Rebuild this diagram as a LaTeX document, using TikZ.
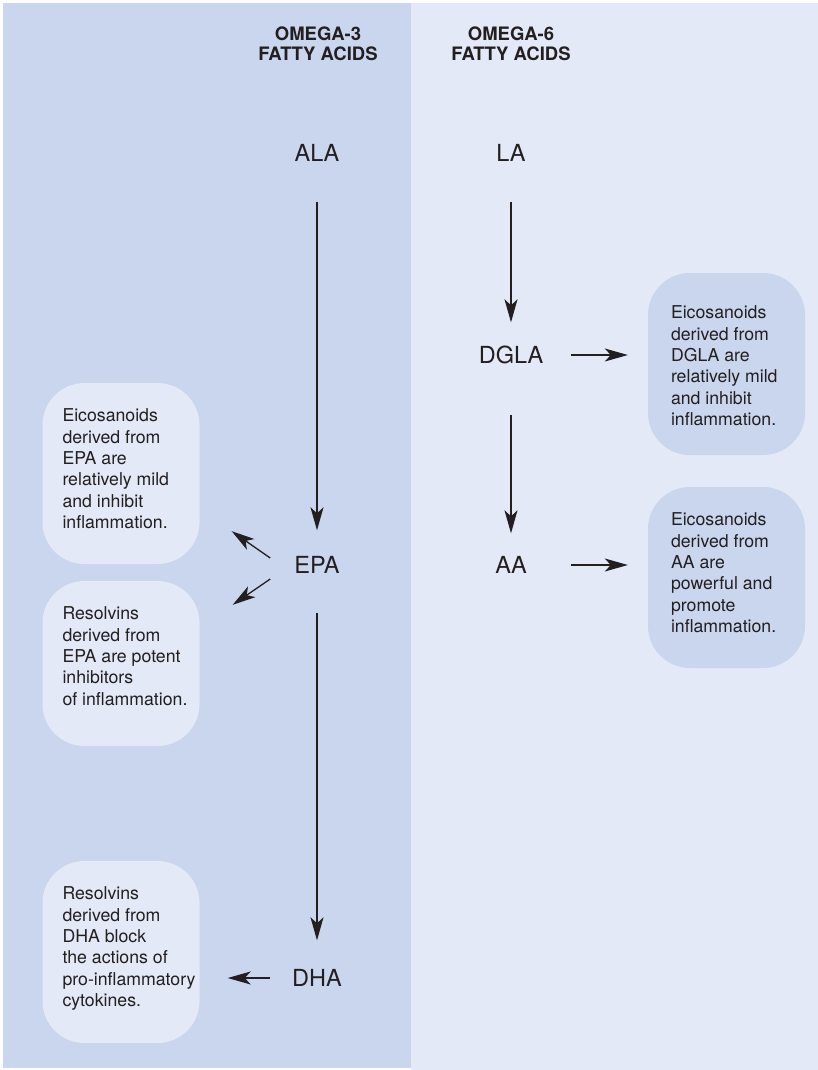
\documentclass[tikz,border=0pt]{standalone}
\usepackage{fontspec}
\setmainfont{TeX Gyre Heros}
\usetikzlibrary{arrows.meta}
\usetikzlibrary{positioning}

\definecolor{omegathree}{RGB}{201,214,238}
\definecolor{omegasix}{RGB}{227,233,246}
\definecolor{inkgrey}{RGB}{35,31,32}

\tikzset{
  acid/.style={inner sep=0pt, text height=17pt, text depth=0pt,
    font=\fontsize{23.5}{24}\selectfont, text=inkgrey},
  header/.style={inner sep=0pt, align=center, anchor=north,
    font=\fontsize{18.5}{20}\selectfont\bfseries, text=inkgrey},
  panelbox/.style={rounded corners=42pt, minimum width=157pt, inner sep=0pt},
  boxtext/.style={inner sep=0pt, align=left,
    font=\fontsize{17.7}{21.3}\selectfont, text=inkgrey},
  flow/.style={-{Stealth[length=23pt,width=13pt,inset=6pt]}, line width=1.3pt, draw=inkgrey},
}

\begin{document}
\begin{tikzpicture}[x=1pt,y=-1pt]
        \useasboundingbox (0,0) rectangle (818,1070);
        % the two panels
        \fill[white] (0,0) rectangle (818,1070);
        \fill[omegathree] (3,3) rectangle (411,1068);
        \fill[omegasix] (411,3) rectangle (818,1070);

        \node[header] (hthree) at (318,27) {OMEGA-3\\FATTY ACIDS};
        \node[header] (hsix) at (511,27) {OMEGA-6\\FATTY ACIDS};

        % fatty acids
        \node[acid] (ala) at (317,153) {ALA};
        \node[acid] (epa) at (317,565) {EPA};
        \node[acid] (dha) at (317,978) {DHA};
        \node[acid] (la) at (511,153) {LA};
        \node[acid] (dgla) at (511,355) {DGLA};
        \node[acid] (aa) at (511,565) {AA};

        % boxes
        \node[panelbox, fill=omegasix, minimum height=181pt] (epaeico) at (121,473.5) {};
        \node[panelbox, fill=omegasix, minimum height=165pt] (eparesol) at (121,663.5) {};
        \node[panelbox, fill=omegasix, minimum height=182pt] (dharesol) at (121,952) {};
        \node[panelbox, fill=omegathree, minimum height=182pt] (dglaeico) at (726.5,364) {};
        \node[panelbox, fill=omegathree, minimum height=181pt] (aaeico) at (726.5,577.5) {};

        \node[boxtext, below right=26pt and 20pt of epaeico.north west] (epaeicotext)
          {Eicosanoids\\derived from\\EPA are\\relatively mild\\and inhibit\\inflammation.};
        \node[boxtext, below right=26pt and 20pt of eparesol.north west] (eparesoltext)
          {Resolvins\\derived from\\EPA are potent\\inhibitors\\of inflammation.};
        \node[boxtext, below right=26pt and 20pt of dharesol.north west] (dharesoltext)
          {Resolvins\\derived from\\DHA block\\the actions of\\pro-inflammatory\\cytokines.};
        \node[boxtext, below right=33pt and 23pt of dglaeico.north west] (dglaeicotext)
          {Eicosanoids\\derived from\\DGLA are\\relatively mild\\and inhibit\\inflammation.};
        \node[boxtext, below right=26pt and 23pt of aaeico.north west] (aaeicotext)
          {Eicosanoids\\derived from\\AA are\\powerful and\\promote\\inflammation.};

        % conversions
        \draw[flow, shorten <=40pt, shorten >=26pt] (ala) -- (epa);
        \draw[flow, shorten <=39pt, shorten >=29pt] (epa) -- (dha);
        \draw[flow, shorten <=40pt, shorten >=24pt] (la) -- (dgla);
        \draw[flow, shorten <=51pt, shorten >=23pt] (dgla) -- (aa);

        % products
        \draw[flow] ([shift={(-24,-7)}]epa.west) -- ([shift={(32,-33)}]epaeico.south east);
        \draw[flow] ([shift={(-24,14)}]epa.west) -- ([shift={(33,24)}]eparesol.north east);
        \draw[flow, shorten <=22pt, shorten >=28pt] (dha) -- (dha -| dharesol.east);
        \draw[flow, shorten <=28pt, shorten >=20pt] (dgla) -- (dgla -| dglaeico.west);
        \draw[flow, shorten <=44pt, shorten >=20pt] (aa) -- (aa -| aaeico.west);
\end{tikzpicture}
\end{document}
